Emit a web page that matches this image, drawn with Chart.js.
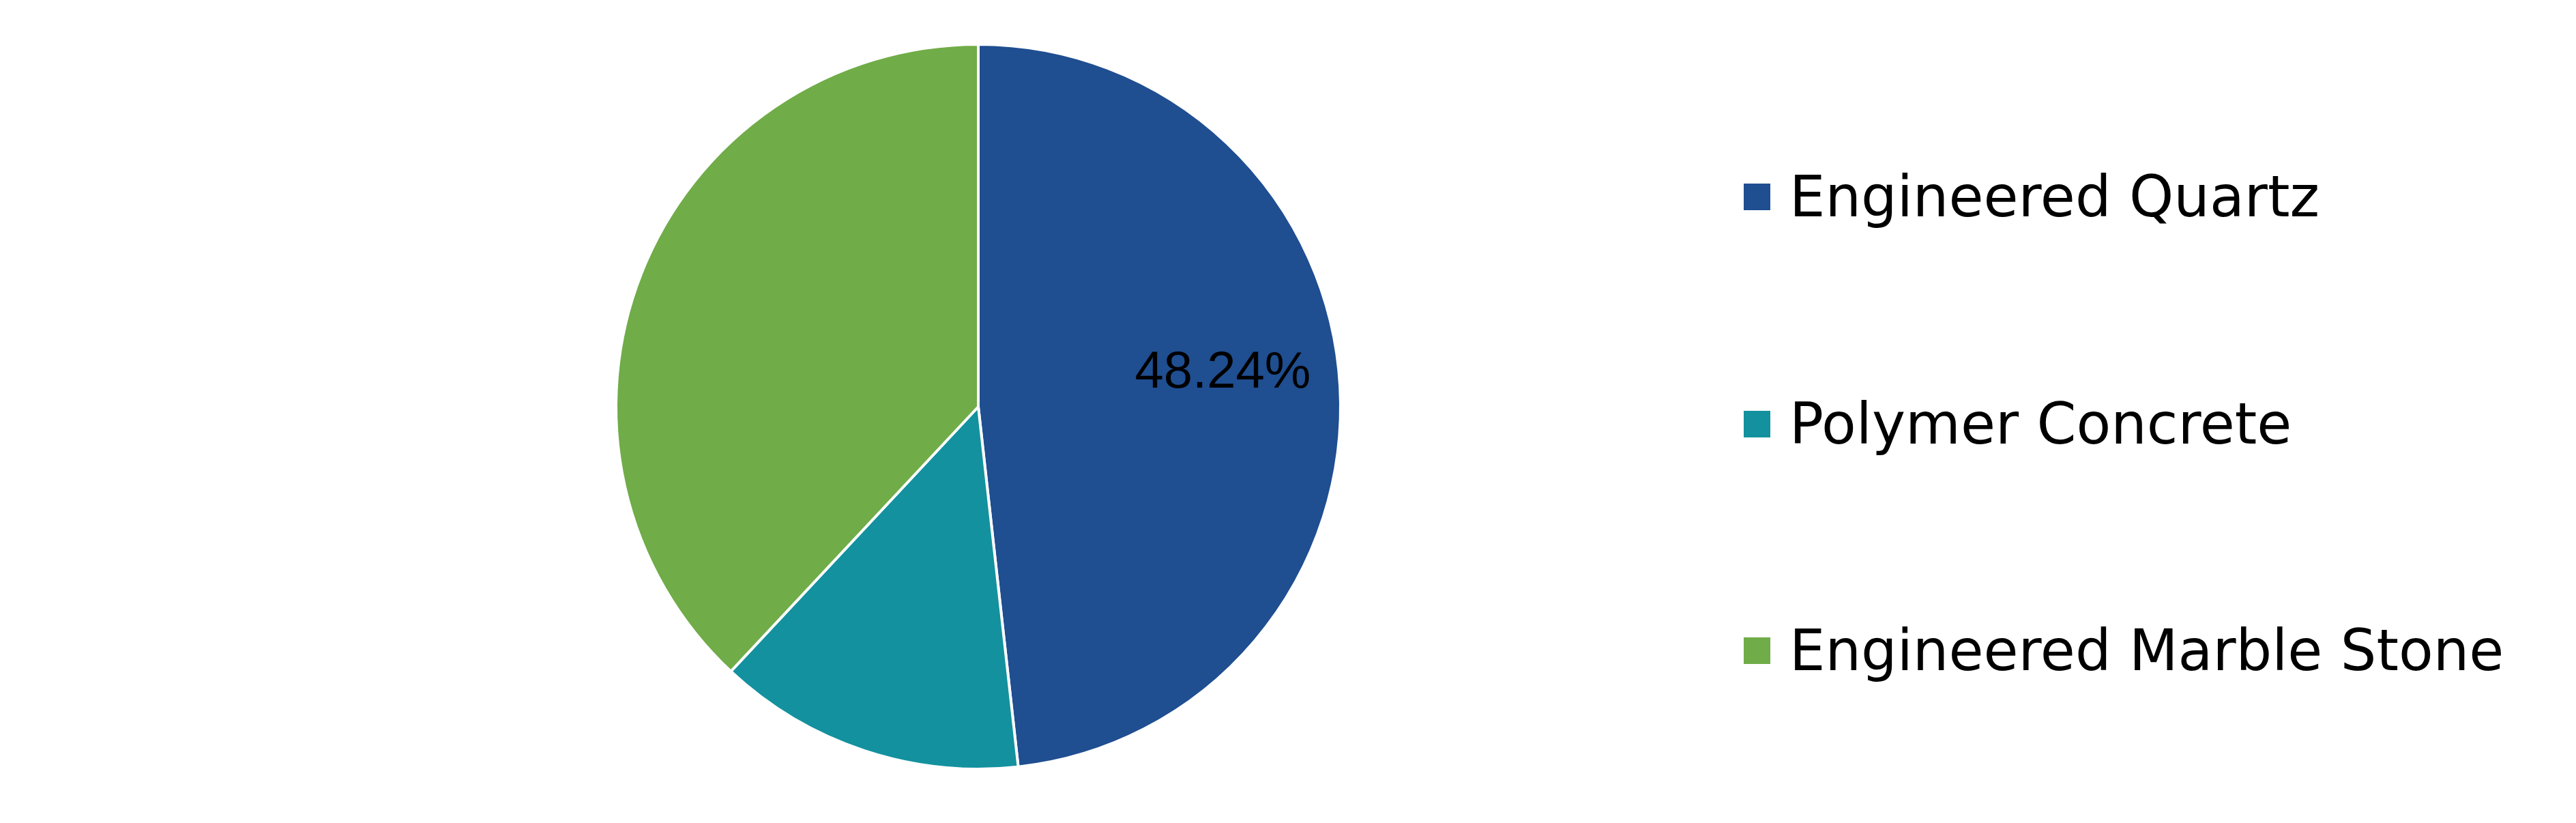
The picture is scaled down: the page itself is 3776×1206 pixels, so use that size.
<!DOCTYPE html>
<html>
<head>
<meta charset="utf-8">
<script src="https://cdn.jsdelivr.net/npm/chart.js@4/dist/chart.umd.min.js"></script>
<style>
  html, body { margin: 0; padding: 0; background: #fff; }
  #wrap { position: relative; width: 3776px; height: 1206px; }
  #legend { position: absolute; left: 2556px; top: 0; font-family: "DejaVu Sans", sans-serif; font-size: 83px; color: #000; }
  .item { position: absolute; left: 0; display: flex; align-items: center; white-space: nowrap; line-height: normal; }
  .swatch { width: 39px; height: 39px; margin-right: 28px; flex: none; }
</style>
</head>
<body>
<div id="wrap">
  <canvas id="pie"></canvas>
  <div id="legend"></div>
</div>
<script>
const categories = ["Engineered Quartz", "Polymer Concrete", "Engineered Marble Stone"];
const shares = [48.24, 13.73, 38.03];
const colors = ["#1F4E91", "#13919E", "#70AC48"];
const labelledSlices = [0];

const sliceLabel = {
  id: "sliceLabel",
  afterDatasetsDraw(chart) {
    const ctx = chart.ctx;
    const arcs = chart.getDatasetMeta(0).data;
    ctx.save();
    ctx.font = '76px "Liberation Sans", Arial, sans-serif';
    ctx.fillStyle = "#000";
    ctx.textAlign = "center";
    ctx.textBaseline = "alphabetic";
    labelledSlices.forEach((i) => {
      const { x, y, startAngle, endAngle, outerRadius } = arcs[i].getProps(
        ["x", "y", "startAngle", "endAngle", "outerRadius"], true
      );
      const mid = (startAngle + endAngle) / 2;
      const r = outerRadius * 0.676;
      ctx.fillText(shares[i].toFixed(2) + "%", x + Math.cos(mid) * r, y + Math.sin(mid) * r - 8);
    });
    ctx.restore();
  },
};

new Chart(document.getElementById("pie"), {
  type: "pie",
  data: {
    labels: categories,
    datasets: [
      {
        data: shares,
        backgroundColor: colors,
        borderColor: "#fff",
        borderWidth: 4,
      },
    ],
  },
  options: {
    responsive: true,
    maintainAspectRatio: false,
    animation: false,
    layout: { padding: { top: 63, bottom: 77, left: 868, right: 1776 } },
    plugins: {
      legend: { display: false },
      tooltip: { enabled: false },
    },
  },
  plugins: [sliceLabel],
});

// legend on the right, one row per category
const legendEl = document.getElementById("legend");
categories.forEach((name, i) => {
  const row = document.createElement("div");
  row.className = "item";
  row.style.top = 240 + i * 332.5 + "px";
  const sw = document.createElement("span");
  sw.className = "swatch";
  sw.style.background = colors[i];
  const txt = document.createElement("span");
  txt.textContent = name;
  row.appendChild(sw);
  row.appendChild(txt);
  legendEl.appendChild(row);
});
</script>
</body>
</html>
